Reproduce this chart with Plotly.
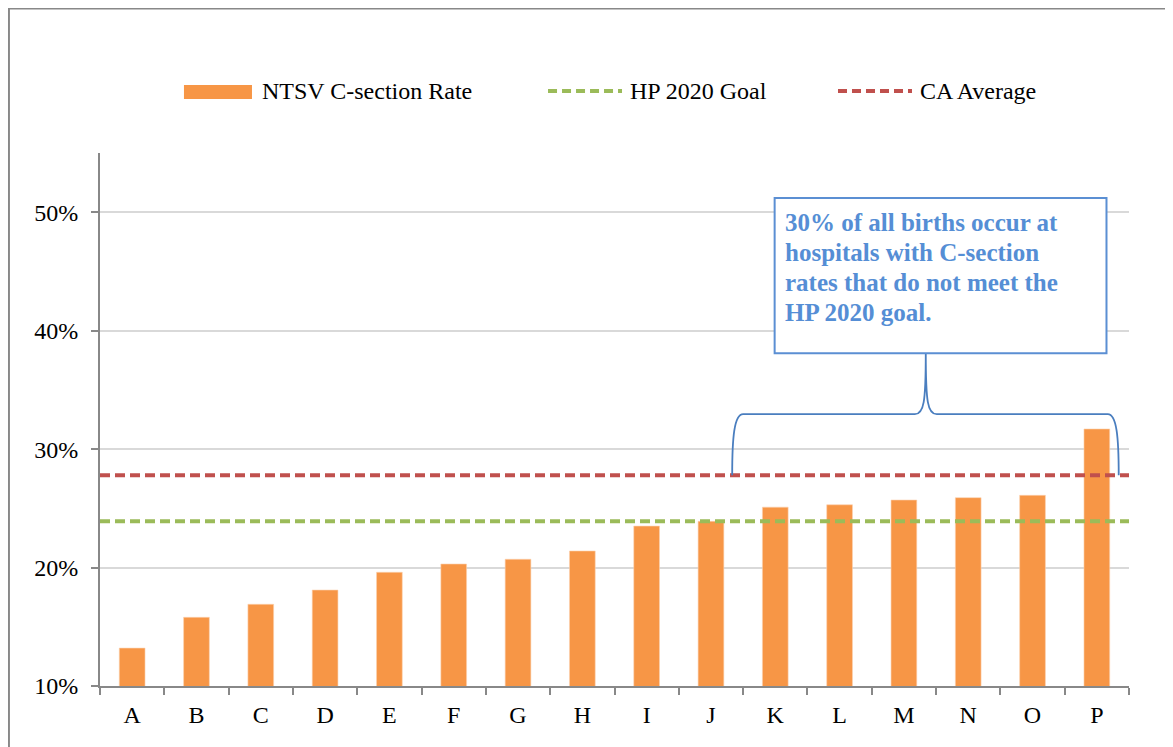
import plotly.graph_objects as go

# Données
hospitals = list("ABCDEFGHIJKLMNOP")
ntsv_rate = [0.132, 0.158, 0.169, 0.181, 0.196, 0.203, 0.207, 0.214,
             0.235, 0.239, 0.251, 0.253, 0.257, 0.259, 0.261, 0.317]
hp2020_goal = 0.239
ca_average = 0.278
y_ticks = [0.10, 0.20, 0.30, 0.40, 0.50]
y_tick_labels = ["10%", "20%", "30%", "40%", "50%"]
note_lines = ["30% of all births occur at", "hospitals with C-section",
              "rates that do not meet the", "HP 2020 goal."]

ORANGE = "#F79646"
GREEN = "#9BBB59"
RED = "#C0504D"
BLUE = "#4A7EBF"
FONT = "Liberation Serif"
DASH = "10px,5px"

fig = go.Figure()
fig.add_trace(go.Bar(
    x=hospitals, y=ntsv_rate, width=0.4,
    marker=dict(color=ORANGE, line=dict(color="#FBD2B0", width=0.6)),
    name="NTSV C-section Rate", showlegend=False,
))

# Lignes de référence sur toute la largeur
for val, col in [(hp2020_goal, GREEN), (ca_average, RED)]:
    fig.add_shape(type="line", xref="paper", yref="y", x0=0, x1=1, y0=val, y1=val,
                  line=dict(color=col, width=4, dash=DASH))

# Accolade au-dessus des hôpitaux K à P
xl, xr, xm = 9.33, 15.34, 12.34
yb, yh, yt = ca_average, 0.3295, 0.381
brace = (f"M {xl},{yb} C {xl},{yh - 0.02} {xl + 0.03},{yh} {xl + 0.17},{yh} "
         f"L {xm - 0.17},{yh} C {xm - 0.03},{yh} {xm},{yh + 0.01} {xm},{yt} "
         f"C {xm},{yh + 0.01} {xm + 0.03},{yh} {xm + 0.17},{yh} "
         f"L {xr - 0.17},{yh} C {xr - 0.03},{yh} {xr},{yh - 0.02} {xr},{yb}")
fig.add_shape(type="path", path=brace, xref="x", yref="y",
              line=dict(color=BLUE, width=1.8))

# Encadré
fig.add_shape(type="rect", xref="x", yref="y", x0=9.99, x1=15.15, y0=yt, y1=0.512,
              line=dict(color="#5B8FD3", width=2), fillcolor="white")
for i, line in enumerate(note_lines):
    fig.add_annotation(
        x=10.12, y=0.4916 - i * 0.0253, xref="x", yref="y",
        xanchor="left", yanchor="middle", text=line, showarrow=False,
        font=dict(family=FONT, size=25, color="#558ED5", weight="bold"),
    )

# Légende faite à la main
fig.add_shape(type="rect", xref="paper", yref="paper", x0=0.0816, x1=0.1477,
              y0=1.1013, y1=1.1276, fillcolor=ORANGE, line_width=0)
for x0, x1, col in [(0.4354, 0.5073, GREEN), (0.7172, 0.7891, RED)]:
    fig.add_shape(type="line", xref="paper", yref="paper", x0=x0, x1=x1,
                  y0=1.1163, y1=1.1163, line=dict(color=col, width=4, dash="9px,5px"))
for x, label in [(0.1555, "NTSV C-section Rate"), (0.5131, "HP 2020 Goal"),
                 (0.795, "CA Average")]:
    fig.add_annotation(x=x, y=1.1163, xref="paper", yref="paper", text=label,
                       xanchor="left", yanchor="middle", showarrow=False,
                       font=dict(family=FONT, size=24, color="black"))

# Cadre extérieur
fig.add_shape(type="rect", xref="paper", yref="paper", x0=-0.0885, x1=1.06,
              y0=-0.15, y1=1.271, line=dict(color="#888888", width=2))

# La page ajoute une marge de 8 px : la figure est réduite d'autant
fig.update_layout(
    width=1165, height=739,
    margin=dict(l=92, r=44, t=145, b=61),
    plot_bgcolor="white", paper_bgcolor="white",
    font=dict(family=FONT, size=24, color="black"),
    showlegend=False,
    xaxis=dict(
        type="category", tickson="boundaries", ticks="outside", ticklen=7,
        tickcolor="#888888", tickwidth=2, showline=True, linecolor="#888888",
        linewidth=2, showgrid=False, range=[-0.5, 15.5], ticklabelstandoff=6,
    ),
    yaxis=dict(
        range=[0.10, 0.55], tickvals=y_ticks, ticktext=y_tick_labels,
        ticks="outside", ticklen=7, tickcolor="#888888", tickwidth=2,
        showline=True, linecolor="#888888", linewidth=2,
        gridcolor="#D9D9D9", gridwidth=1.5, zeroline=False, ticklabelstandoff=8,
    ),
)

fig.write_html("out.html")
